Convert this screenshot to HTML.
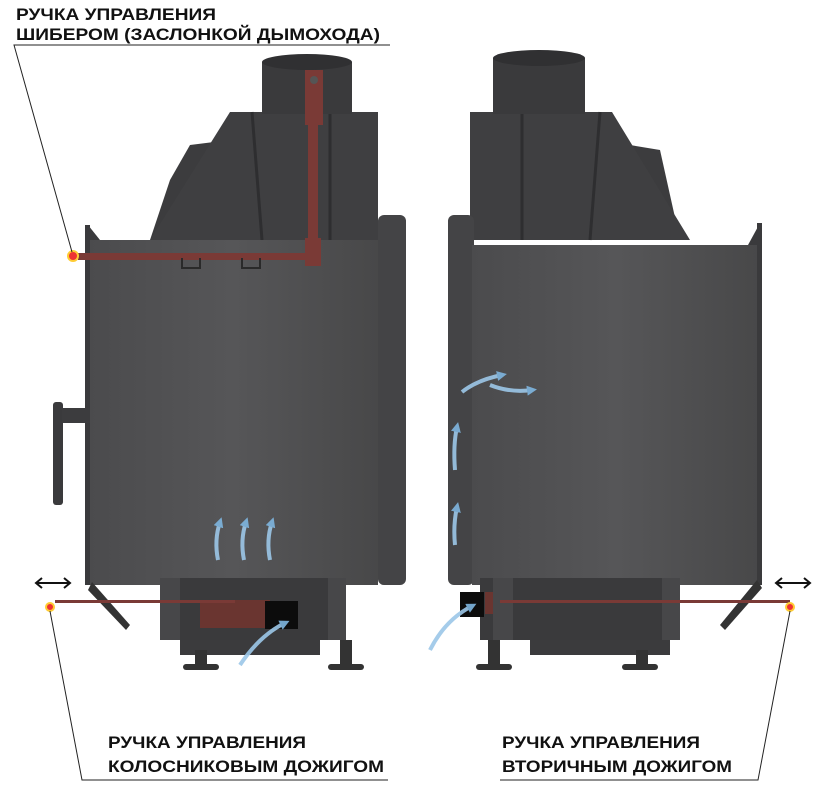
<!DOCTYPE html>
<html><head><meta charset="utf-8"><style>
html,body{margin:0;padding:0;background:#fff}
svg{display:block}
text{font-family:"Liberation Sans","DejaVu Sans",sans-serif;font-weight:bold;fill:#111;font-size:17px}
</style></head><body>
<svg width="824" height="805" viewBox="0 0 824 805" xmlns="http://www.w3.org/2000/svg">
<defs>
<linearGradient id="g" x1="0" x2="1"><stop offset="0" stop-color="#4b4b4d"/><stop offset="0.5" stop-color="#565658"/><stop offset="1" stop-color="#484849"/></linearGradient>
<marker id="ah" markerUnits="userSpaceOnUse" markerWidth="10" markerHeight="10" refX="5" refY="5" orient="auto"><path d="M0,0 L10,5 L0,10z" fill="#7fb6e0"/></marker>
</defs>
<!-- LEFT FIREPLACE -->
<path d="M190,145 L230,140 L230,240 L150,240 L170,180z" fill="#3c3c3e"/>
<path d="M150,240 L230,112 L378,112 L378,240z" fill="#3f3f41"/>
<path d="M252,112 L262,240 M330,112 L330,240" stroke="#2e2e30" stroke-width="3"/>
<rect x="262" y="62" width="90" height="52" fill="#3a3a3c"/>
<ellipse cx="307" cy="62" rx="45" ry="8" fill="#303032"/>
<rect x="378" y="215" width="28" height="370" rx="6" fill="#444446"/>
<rect x="88" y="240" width="290" height="345" fill="url(#g)"/>
<path d="M88,225 L100,240 L88,240z" fill="#3a3a3c"/>
<rect x="85" y="225" width="5" height="360" fill="#3a3a3c"/>
<rect x="305" y="70" width="18" height="55" fill="#7a3a36"/>
<rect x="308" y="120" width="10" height="125" fill="#7a3a36"/>
<rect x="305" y="238" width="16" height="28" fill="#7a3a36"/>
<rect x="78" y="253" width="242" height="7" fill="#7a3a36"/>
<circle cx="314" cy="80" r="4" fill="#555"/>
<path d="M182,258 v10 h18 v-10 M242,258 v10 h18 v-10" stroke="#2a2a2a" stroke-width="2" fill="none"/>
<circle cx="73" cy="256" r="5" fill="#e33" stroke="#fc3" stroke-width="2"/>
<rect x="53" y="402" width="10" height="103" rx="3" fill="#3a3a3c"/>
<rect x="62" y="408" width="28" height="15" fill="#3c3c3e"/>
<rect x="163" y="578" width="180" height="62" fill="#3a3a3c"/>
<rect x="200" y="600" width="70" height="28" fill="#6a3530"/>
<rect x="265" y="601" width="33" height="28" fill="#0c0c0c"/>
<rect x="160" y="578" width="20" height="62" fill="#474749"/>
<rect x="328" y="578" width="18" height="62" fill="#474749"/>
<rect x="180" y="640" width="140" height="15" fill="#3b3b3d"/>
<rect x="195" y="650" width="12" height="20" fill="#333"/>
<rect x="340" y="640" width="12" height="28" fill="#333"/>
<rect x="183" y="664" width="36" height="6" rx="3" fill="#333"/>
<rect x="328" y="664" width="36" height="6" rx="3" fill="#333"/>
<path d="M92,582 L130,625 L126,630 L88,590z" fill="#333"/>
<rect x="55" y="600" width="180" height="3" fill="#7a3a36"/>
<circle cx="50" cy="607" r="4" fill="#e33" stroke="#fc3" stroke-width="2"/>
<!-- RIGHT FIREPLACE -->
<path d="M630,145 L660,150 L680,240 L630,240z" fill="#3c3c3e"/>
<path d="M470,240 L470,112 L612,112 L690,240z" fill="#3f3f41"/>
<path d="M522,112 L522,240 M600,112 L590,240" stroke="#2e2e30" stroke-width="3"/>
<rect x="493" y="58" width="92" height="56" fill="#3a3a3c"/>
<ellipse cx="539" cy="58" rx="46" ry="8" fill="#303032"/>
<rect x="448" y="215" width="26" height="370" rx="6" fill="#444446"/>
<rect x="472" y="245" width="288" height="340" fill="url(#g)"/>
<path d="M748,245 L760,223 L762,245z" fill="#3a3a3c"/>
<rect x="757" y="223" width="5" height="362" fill="#3a3a3c"/>
<rect x="480" y="578" width="200" height="62" fill="#3a3a3c"/>
<rect x="460" y="592" width="24" height="25" fill="#0c0c0c"/>
<rect x="485" y="592" width="12" height="22" fill="#6a3530"/>
<rect x="493" y="578" width="20" height="62" fill="#474749"/>
<rect x="662" y="578" width="18" height="62" fill="#474749"/>
<rect x="530" y="640" width="140" height="15" fill="#3b3b3d"/>
<rect x="488" y="640" width="12" height="28" fill="#333"/>
<rect x="636" y="650" width="12" height="20" fill="#333"/>
<rect x="476" y="664" width="36" height="6" rx="3" fill="#333"/>
<rect x="622" y="664" width="36" height="6" rx="3" fill="#333"/>
<path d="M757,580 L720,625 L725,630 L762,588z" fill="#333"/>
<rect x="500" y="600" width="290" height="3" fill="#7a3a36"/>
<circle cx="790" cy="607" r="4" fill="#e33" stroke="#fc3" stroke-width="2"/>
<!-- air flows -->
<g stroke="#9cc7e8" stroke-width="4" fill="none" marker-end="url(#ah)" opacity="0.9">
<path d="M218,560 q-4,-20 2,-38"/><path d="M244,560 q-4,-20 2,-38"/><path d="M270,560 q-4,-20 2,-38"/>
<path d="M240,665 q20,-30 45,-42"/><path d="M430,650 q15,-30 42,-44"/>
<path d="M455,545 q-2,-20 2,-38"/><path d="M455,470 q-2,-25 2,-43"/>
<path d="M462,392 q15,-12 40,-17"/><path d="M490,385 q20,8 42,5"/>
</g>
<!-- arrows ↔ -->
<g stroke="#111" stroke-width="2" fill="none">
<path d="M36,583 h34 M42,578 l-6,5 l6,5 M64,578 l6,5 l-6,5"/>
<path d="M776,583 h34 M782,578 l-6,5 l6,5 M804,578 l6,5 l-6,5"/>
</g>
<!-- leader lines -->
<g stroke="#222" stroke-width="1" fill="none">
<path d="M390,45 H14 L72,252"/>
<path d="M50,611 L82,780 H388"/>
<path d="M790,611 L758,780 H500"/>
</g>
<text x="16" y="20" textLength="200" lengthAdjust="spacingAndGlyphs">РУЧКА УПРАВЛЕНИЯ</text>
<text x="16" y="40" textLength="364" lengthAdjust="spacingAndGlyphs">ШИБЕРОМ (ЗАСЛОНКОЙ ДЫМОХОДА)</text>
<text x="108" y="748" textLength="198" lengthAdjust="spacingAndGlyphs">РУЧКА УПРАВЛЕНИЯ</text>
<text x="108" y="772" textLength="276" lengthAdjust="spacingAndGlyphs">КОЛОСНИКОВЫМ ДОЖИГОМ</text>
<text x="502" y="748" textLength="198" lengthAdjust="spacingAndGlyphs">РУЧКА УПРАВЛЕНИЯ</text>
<text x="502" y="772" textLength="230" lengthAdjust="spacingAndGlyphs">ВТОРИЧНЫМ ДОЖИГОМ</text>
</svg>
</body></html>
